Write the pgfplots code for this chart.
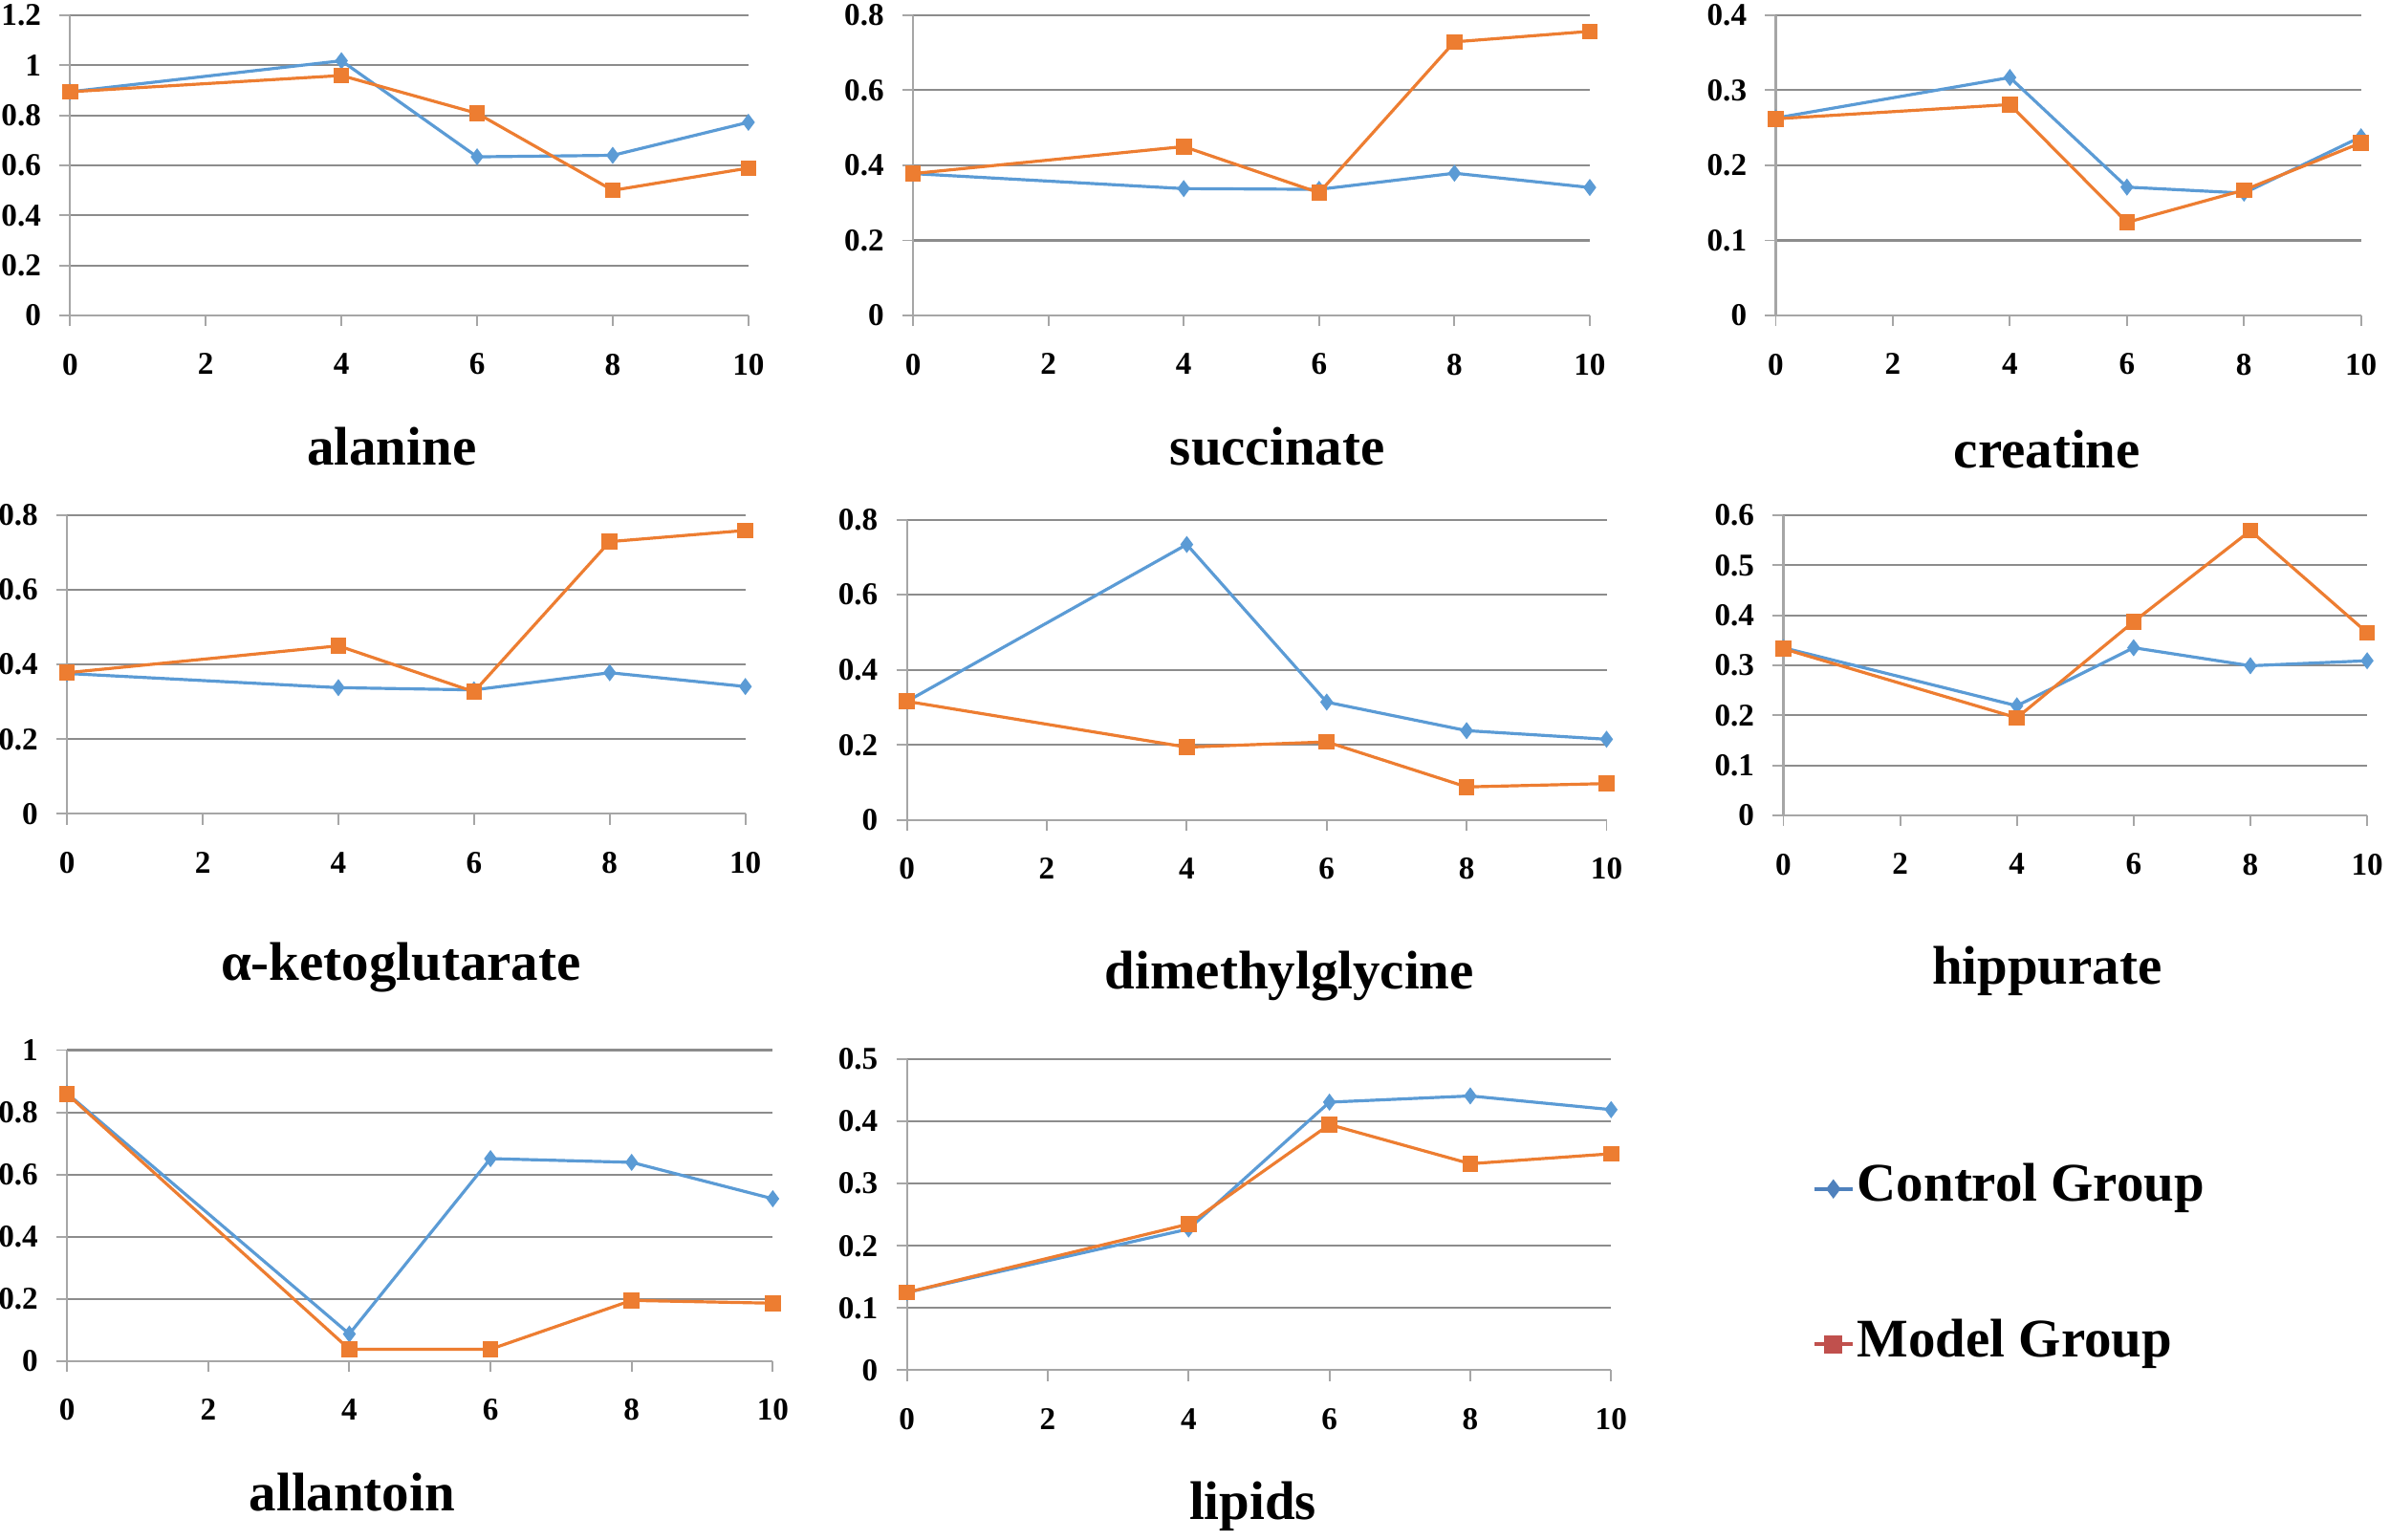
\documentclass[border=0pt]{standalone}
\usepackage{fontspec}
\setmainfont{Liberation Serif}
\usepackage{pgfplots}
\pgfplotsset{compat=1.18}
\definecolor{cblue}{HTML}{5B9BD5}
\definecolor{corange}{HTML}{ED7D31}
\definecolor{lblue}{HTML}{4F81BD}
\definecolor{lred}{HTML}{C0504D}
\definecolor{gridc}{HTML}{8C8C8C}
\definecolor{axc}{HTML}{A6A6A6}
\pgfplotsset{
  panel/.style={
    scale only axis, anchor=south west,
    xmin=0, xmax=10, ymin=0,
    xtick={0,2,4,6,8,10},
    axis x line*=bottom, axis y line*=left,
    axis line style={axc, line width=0.7pt},
    ymajorgrids, grid style={gridc, line width=0.65pt},
    tick align=outside, major tick length=3.5pt,
    tick style={axc, line width=0.6pt},
    every tick label/.append style={font=\bfseries\fontsize{10.4}{12}\selectfont},
    /pgf/number format/assume math mode=true,
    xticklabel style={yshift=-5.5pt},
    yticklabel style={xshift=-2.5pt},
    clip=false,
  },
  ctrl/.style={cblue, line width=1pt, mark=diamond*, mark size=2pt, mark options={solid}},
  modl/.style={corange, line width=1pt, mark=square*, mark size=2.1pt, mark options={solid}},
}
\newcommand{\ttl}{\bfseries\fontsize{17.85}{20}\selectfont}
\begin{document}
\begin{tikzpicture}
\useasboundingbox (0,0) rectangle (784pt,505.2pt);
% alanine
\begin{axis}[panel, at={(23pt,401.7pt)}, width=222.5pt, height=98.5pt,
  ymax=1.2, ytick={0,0.2,0.4,0.6,0.8,1,1.2}]
\addplot[ctrl] coordinates {(0,0.894)(4,1.018)(6,0.634)(8,0.640)(10,0.772)};
\addplot[modl] coordinates {(0,0.894)(4,0.959)(6,0.808)(8,0.500)(10,0.589)};
\end{axis}
% succinate
\begin{axis}[panel, at={(299.5pt,401.7pt)}, width=222pt, height=98.5pt,
  ymax=0.8, ytick={0,0.2,0.4,0.6,0.8}]
\addplot[ctrl] coordinates {(0,0.378)(4,0.338)(6,0.336)(8,0.379)(10,0.341)};
\addplot[modl] coordinates {(0,0.378)(4,0.450)(6,0.327)(8,0.729)(10,0.757)};
\end{axis}
% creatine
\begin{axis}[panel, at={(582.5pt,401.7pt)}, width=192pt, height=98.5pt,
  ymax=0.4, ytick={0,0.1,0.2,0.3,0.4}]
\addplot[ctrl] coordinates {(0,0.263)(4,0.317)(6,0.171)(8,0.163)(10,0.238)};
\addplot[modl] coordinates {(0,0.262)(4,0.281)(6,0.124)(8,0.167)(10,0.230)};
\end{axis}
% alpha-ketoglutarate
\begin{axis}[panel, at={(22pt,238.2pt)}, width=222.5pt, height=98pt,
  ymax=0.8, ytick={0,0.2,0.4,0.6,0.8}]
\addplot[ctrl] coordinates {(0,0.376)(4,0.338)(6,0.332)(8,0.378)(10,0.341)};
\addplot[modl] coordinates {(0,0.378)(4,0.450)(6,0.327)(8,0.729)(10,0.759)};
\end{axis}
% dimethylglycine
\begin{axis}[panel, at={(297.5pt,236.2pt)}, width=229.5pt, height=98.5pt,
  ymax=0.8, ytick={0,0.2,0.4,0.6,0.8}]
\addplot[ctrl] coordinates {(0,0.316)(4,0.734)(6,0.314)(8,0.238)(10,0.215)};
\addplot[modl] coordinates {(0,0.316)(4,0.194)(6,0.208)(8,0.088)(10,0.097)};
\end{axis}
% hippurate
\begin{axis}[panel, at={(585pt,237.7pt)}, width=191.5pt, height=98.5pt,
  ymax=0.6, ytick={0,0.1,0.2,0.3,0.4,0.5,0.6}]
\addplot[ctrl] coordinates {(0,0.335)(4,0.219)(6,0.335)(8,0.299)(10,0.309)};
\addplot[modl] coordinates {(0,0.333)(4,0.195)(6,0.387)(8,0.569)(10,0.365)};
\end{axis}
% allantoin
\begin{axis}[panel, at={(22pt,58.7pt)}, width=231.5pt, height=102pt,
  ymax=1, ytick={0,0.2,0.4,0.6,0.8,1}]
\addplot[ctrl] coordinates {(0,0.861)(4,0.087)(6,0.651)(8,0.639)(10,0.522)};
\addplot[modl] coordinates {(0,0.859)(4,0.038)(6,0.038)(8,0.195)(10,0.186)};
\end{axis}
% lipids + legend
\begin{axis}[panel, at={(297.5pt,55.7pt)}, width=231pt, height=102pt,
  ymax=0.5, ytick={0,0.1,0.2,0.3,0.4,0.5},
  legend cell align=left,
  legend image code/.code={\draw[mark repeat=2,mark phase=2,#1] plot coordinates {(0cm,0cm) (0.22cm,0cm) (0.44cm,0cm)};},
  legend style={at={(1.285,0.333)}, anchor=west, draw=none, fill=none,
    inner sep=0pt, row sep=33pt, column sep=0pt,
    font=\ttl, nodes={text height=12pt, text depth=4pt, inner sep=1pt}}]
\addplot[ctrl, forget plot] coordinates {(0,0.125)(4,0.227)(6,0.431)(8,0.441)(10,0.419)};
\addplot[modl, forget plot] coordinates {(0,0.125)(4,0.235)(6,0.395)(8,0.332)(10,0.348)};
\addlegendimage{lblue, line width=1.2pt, mark=diamond*, mark size=2.2pt}
\addlegendentry{Control Group}
\addlegendimage{lred, line width=1.2pt, mark=square*, mark size=2.4pt}
\addlegendentry{Model Group}
\end{axis}
% panel titles
\node[anchor=base, font=\ttl] at (128.5pt,352.7pt) {alanine};
\node[anchor=base, font=\ttl] at (419pt,352.7pt) {succinate};
\node[anchor=base, font=\ttl] at (671.5pt,351.7pt) {creatine};
\node[anchor=base, font=\ttl] at (131.5pt,183.7pt) {α-ketoglutarate};
\node[anchor=base, font=\ttl] at (423pt,180.7pt) {dimethylglycine};
\node[anchor=base, font=\ttl] at (671.5pt,182.2pt) {hippurate};
\node[anchor=base, font=\ttl] at (115.5pt,9.7pt) {allantoin};
\node[anchor=base, font=\ttl] at (411pt,6.7pt) {lipids};
\end{tikzpicture}
\end{document}
